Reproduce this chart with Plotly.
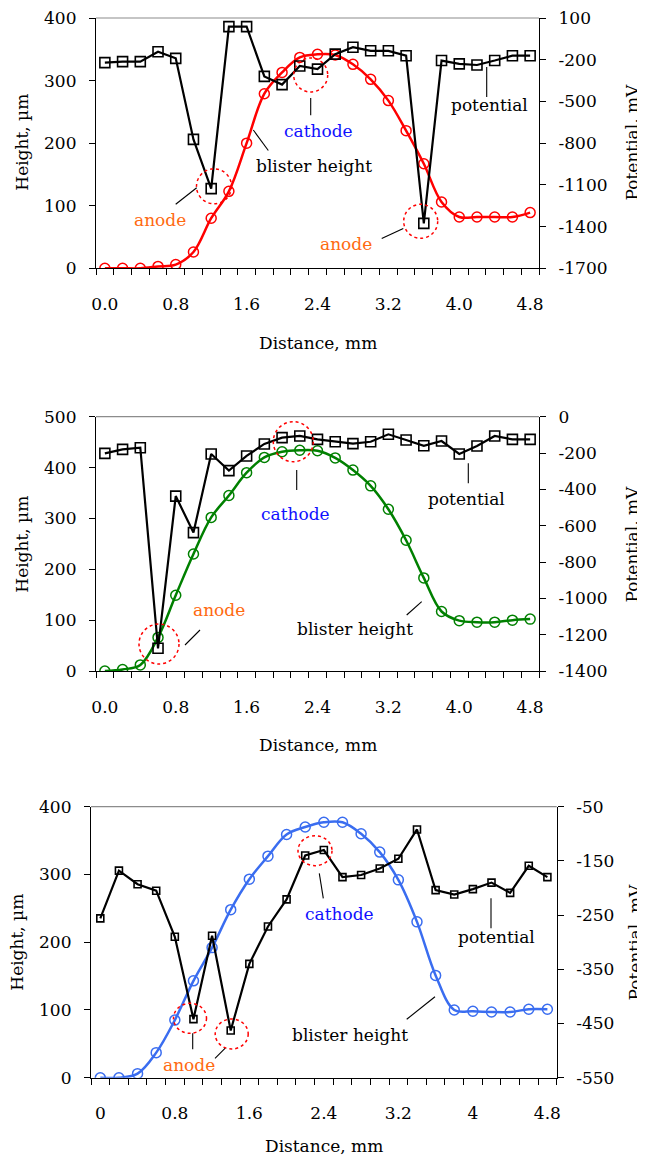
import plotly.graph_objects as go

# ---------------- data ----------------
distance = [0.0, 0.2, 0.4, 0.6, 0.8, 1.0, 1.2, 1.4, 1.6, 1.8, 2.0, 2.2, 2.4,
            2.6, 2.8, 3.0, 3.2, 3.4, 3.6, 3.8, 4.0, 4.2, 4.4, 4.6, 4.8]

height1 = [0, 0, 0, 3, 6, 26, 80, 123, 200, 279, 313, 337, 342, 341, 326, 302,
           268, 220, 167, 106, 82, 82, 82, 82, 89]
potential1 = [-221, -214, -214, -143, -190, -773, -1127, 38, 38, -320, -379, -245,
              -268, -160, -110, -136, -136, -171, -1377, -206, -230, -238, -206,
              -171, -171]

height2 = [0, 3, 12, 66, 149, 230, 302, 345, 390, 420, 431, 434, 433, 419, 395,
           364, 318, 257, 183, 117, 99, 96, 96, 100, 102]
potential2 = [-202, -180, -171, -1275, -437, -638, -205, -297, -216, -150, -115,
              -106, -125, -138, -148, -138, -97, -128, -160, -134, -205, -161,
              -106, -125, -125]

height3 = [0, 0, 6, 37, 85, 143, 192, 248, 293, 327, 359, 370, 377, 377, 360,
           333, 292, 230, 151, 100, 98, 97, 97, 101, 101]
potential3 = [-256, -168, -193, -205, -290, -442, -288, -463, -340, -271, -221,
              -140, -130, -180, -176, -164, -146, -92, -204, -212, -202, -190,
              -209, -159, -180]

x_tickvals = [0.0, 0.8, 1.6, 2.4, 3.2, 4.0, 4.8]
x_ticktext_a = ["0.0", "0.8", "1.6", "2.4", "3.2", "4.0", "4.8"]
x_ticktext_b = ["0", "0.8", "1.6", "2.4", "3.2", "4", "4.8"]

h_ticks_1 = [0, 100, 200, 300, 400]
h_ticks_2 = [0, 100, 200, 300, 400, 500]
h_ticks_3 = [0, 100, 200, 300, 400]
p_ticks_1 = [100, -200, -500, -800, -1100, -1400, -1700]
p_ticks_2 = [0, -200, -400, -600, -800, -1000, -1200, -1400]
p_ticks_3 = [-50, -150, -250, -350, -450, -550]

# ---------------- styling / layout helpers ----------------
OFF = 8                      # page body margin of the html page
W, H = 645 - OFF, 1160 - OFF
FONT = "DejaVu Serif"
FS = 17
ORANGE = "#FF6A10"
CATH_BLUE = "#1010FF"


def px(x):
    return (x - OFF) / W


def py(y):
    return 1 - (y - OFF) / H


def lbl(vals):
    return [str(v) for v in vals]


fig = go.Figure()

panels = [
    dict(h=height1, p=potential1, color="#FF0000", sq=10, x="x", y="y", y2="y2"),
    dict(h=height2, p=potential2, color="#008000", sq=10, x="x2", y="y3", y2="y4"),
    dict(h=height3, p=potential3, color="#3A6DF0", sq=7, x="x3", y="y5", y2="y6"),
]

for pn in panels:
    fig.add_trace(go.Scatter(
        x=distance, y=pn["h"], xaxis=pn["x"], yaxis=pn["y"],
        mode="lines+markers",
        line=dict(color=pn["color"], width=2.5, shape="spline", smoothing=1.0),
        marker=dict(symbol="circle-open", size=10, color=pn["color"],
                    line=dict(width=1.5, color=pn["color"])),
        showlegend=False, hoverinfo="skip"))
    fig.add_trace(go.Scatter(
        x=distance, y=pn["p"], xaxis=pn["x"], yaxis=pn["y2"],
        mode="lines+markers",
        line=dict(color="black", width=2.2),
        marker=dict(symbol="square-open", size=pn["sq"], color="black",
                    line=dict(width=1.6, color="black")),
        showlegend=False, hoverinfo="skip"))

tickfont = dict(family=FONT, size=FS, color="black")


def xaxis_cfg(dom, anchor, ticktext):
    return dict(domain=dom, anchor=anchor, range=[-0.1, 4.9], automargin=False,
                tickmode="array", tickvals=x_tickvals, ticktext=ticktext,
                ticks="outside", ticklen=0, tickfont=tickfont,
                ticklabelstandoff=20, ticklabeloverflow="allow",
                showline=True, linecolor="black", linewidth=1.2,
                showgrid=False, zeroline=False,
                minor=dict(ticks="outside", tick0=-0.1, dtick=0.2, ticklen=6,
                           tickcolor="black", tickwidth=1, showgrid=False))


def yleft_cfg(dom, anchor, rng, ticks):
    return dict(domain=dom, anchor=anchor, range=rng, tickmode="array",
                automargin=False, ticklabeloverflow="allow",
                tickvals=ticks, ticktext=lbl(ticks), ticks="outside", ticklen=6,
                tickcolor="black", tickfont=tickfont, ticklabelstandoff=9,
                showline=True, linecolor="black", linewidth=1.2,
                showgrid=False, zeroline=False)


def yright_cfg(overlay, anchor, rng, ticks):
    return dict(overlaying=overlay, anchor=anchor, side="right", range=rng,
                automargin=False, ticklabeloverflow="allow",
                tickmode="array", tickvals=ticks, ticktext=lbl(ticks),
                ticks="outside", ticklen=6, tickcolor="black", tickfont=tickfont,
                ticklabelstandoff=9,
                showline=True, linecolor="black", linewidth=1.2,
                showgrid=False, zeroline=False)


d1x = [px(96), px(539)]
d3x = [px(91), px(556.7)]
d1y = [py(268.3), py(18)]
d2y = [py(671), py(416.7)]
d3y = [py(1077.7), py(806.7)]

fig.update_layout(
    width=W, height=H, autosize=False,
    margin=dict(l=0, r=0, t=0, b=0, pad=0, autoexpand=False),
    paper_bgcolor="white", plot_bgcolor="white",
    font=dict(family=FONT, size=FS, color="black"),
    xaxis=xaxis_cfg(d1x, "y", x_ticktext_a),
    yaxis=yleft_cfg(d1y, "x", [0, 400], h_ticks_1),
    yaxis2=yright_cfg("y", "x", [-1700, 100], p_ticks_1),
    xaxis2=xaxis_cfg(d1x, "y3", x_ticktext_a),
    yaxis3=yleft_cfg(d2y, "x2", [0, 500], h_ticks_2),
    yaxis4=yright_cfg("y3", "x2", [-1400, 0], p_ticks_2),
    xaxis3=xaxis_cfg(d3x, "y5", x_ticktext_b),
    yaxis5=yleft_cfg(d3y, "x3", [0, 400], h_ticks_3),
    yaxis6=yright_cfg("y5", "x3", [-550, -50], p_ticks_3),
)

shapes = []
annotations = []

# top border of each plot area
for xr, yr in [("x", "y"), ("x2", "y3"), ("x3", "y5")]:
    shapes.append(dict(type="line", xref=f"{xr} domain", yref=f"{yr} domain",
                       x0=0, x1=1, y0=1, y1=1,
                       line=dict(color="#8c8c8c", width=1.2)))


def circle(cx, cy, rx, ry=None):
    ry = rx if ry is None else ry
    shapes.append(dict(type="circle", xref="paper", yref="paper",
                       x0=px(cx - rx), x1=px(cx + rx),
                       y0=py(cy + ry), y1=py(cy - ry),
                       line=dict(color="#FF0000", width=1.5, dash="dot")))


def seg(x0, y0, x1, y1):
    shapes.append(dict(type="line", xref="paper", yref="paper",
                       x0=px(x0), y0=py(y0), x1=px(x1), y1=py(y1),
                       line=dict(color="black", width=1.1)))


def text(t, cx, cy, color="black", angle=0):
    annotations.append(dict(text=t, x=px(cx), y=py(cy), xref="paper",
                            yref="paper", xanchor="center", yanchor="middle",
                            showarrow=False, textangle=angle,
                            font=dict(family=FONT, size=FS, color=color)))


# axis titles
for cy_mid, xl, xr_, xt_y, xt_x in [(142, 21.7, 631.5, 343, 317.5),
                                     (544, 21.7, 631.5, 745, 317.5),
                                     (942, 16.7, 634.5, 1146, 324)]:
    text("Height, µm", xl, cy_mid, angle=-90)
    text("Potential, mV", xr_, cy_mid, angle=-90)
    text("Distance, mm", xt_x, xt_y)

# panel 1 callouts
circle(214, 186.3, 17.5)
circle(310.7, 75, 17)
circle(420.7, 221.3, 17)
seg(175.7, 204.3, 196.7, 187.7)
seg(310.7, 98, 310.7, 115.3)
seg(253.3, 130, 268.3, 150.5)
seg(381.7, 238.6, 403.3, 228.6)
seg(486.7, 67, 486.7, 97)
text("anode", 160, 219.5, ORANGE)
text("anode", 346, 244, ORANGE)
text("cathode", 318, 130.5, CATH_BLUE)
text("blister height", 314, 166)
text("potential", 489.5, 105)

# panel 2 callouts
circle(159, 644, 20)
circle(293.3, 441.7, 20)
seg(185, 645, 200, 630)
seg(296.7, 470, 296.7, 490)
seg(406.7, 615, 421.7, 601.7)
seg(468.3, 463.3, 468.3, 483.3)
text("anode", 219, 610, ORANGE)
text("cathode", 295.5, 514, CATH_BLUE)
text("blister height", 355, 629)
text("potential", 467, 499)

# panel 3 callouts
circle(190, 1018.3, 16.5, 15)
circle(231.7, 1034, 16.5, 15)
circle(315, 850.7, 17, 15)
seg(192.7, 1033.3, 192.7, 1049.3)
seg(215, 1058.3, 225, 1048.3)
seg(319.3, 873.3, 323.3, 898.3)
seg(406.7, 1019.3, 435, 996.7)
seg(491, 898.3, 491, 928.3)
text("anode", 188.5, 1065, ORANGE)
text("cathode", 339.5, 914, CATH_BLUE)
text("blister height", 350, 1035)
text("potential", 496.3, 937)

fig.update_layout(shapes=shapes, annotations=annotations)

fig.write_html("out.html")
